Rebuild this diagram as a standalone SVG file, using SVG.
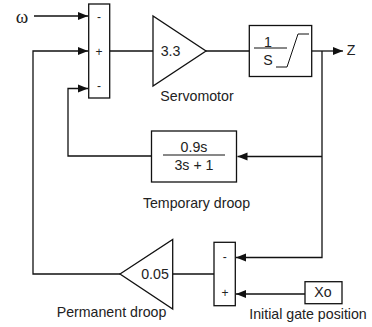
<svg xmlns="http://www.w3.org/2000/svg" width="372" height="327" viewBox="0 0 372 327">
<style>
text{font-family:"Liberation Sans",Arial,sans-serif;font-size:14.2px;fill:#222;text-anchor:middle}
.g{font-size:12px}
.s{fill:#fff;stroke:#111;stroke-width:1.3}
.l{fill:none;stroke:#111;stroke-width:1.3}
.t{stroke:#111;stroke-width:1;fill:none}
</style>
<defs><marker id="a" markerUnits="userSpaceOnUse" markerWidth="12" markerHeight="10" refX="10" refY="4.500" orient="auto"><path d="M0 0.500L10 4.500L0 8.500z" fill="#111"/></marker></defs>
<g id="connectors">
<path class="l" d="M34 16H88" marker-end="url(#a)"/>
<path class="l" d="M120 274H33V51H88" marker-end="url(#a)"/>
<path class="l" d="M151 156H68V88.500H88" marker-end="url(#a)"/>
<path class="l" d="M110 51H153"/>
<path class="l" d="M206 51H249"/>
<path class="l" d="M312 51H343" marker-end="url(#a)"/>
<path class="l" d="M322 51V257.500H236" marker-end="url(#a)"/>
<path class="l" d="M322 156.500H237.500" marker-end="url(#a)"/>
<path class="l" d="M305 294H236" marker-end="url(#a)"/>
<path class="l" d="M173 274H214"/>
</g>
<g id="omega"><text x="22" y="23" style="font-family:'Liberation Serif',serif;font-size:19px">ω</text></g>
<g id="sum1"><rect class="s" x="88.700" y="4" width="21" height="94"/><text class="g" x="99" y="21">-</text><text class="g" x="99" y="56">+</text><text class="g" x="99" y="90">-</text></g>
<g id="servomotor"><path class="s" d="M153 16V86L206 51z"/><text x="170.500" y="55.500">3.3</text><text x="197" y="101">Servomotor</text></g>
<g id="integrator"><rect class="s" x="249.300" y="25.500" width="62.400" height="51"/><path class="t" d="M254 48H287M276 67H287L298 34H309"/><text x="268" y="47">1</text><text x="268" y="65">S</text></g>
<g id="z"><text x="351" y="55">Z</text></g>
<g id="temporary"><rect class="s" x="151.500" y="131" width="85" height="51"/><path class="t" d="M163 155H225"/><text x="194" y="152">0.9s</text><text x="194" y="170">3s + 1</text><text x="196.500" y="208">Temporary droop</text></g>
<g id="permanent"><path class="s" d="M120 274L172.700 239.500V309z"/><text x="155" y="279">0.05</text><text x="111.500" y="316.500">Permanent droop</text></g>
<g id="sum2"><rect class="s" x="214" y="242.300" width="21.300" height="63.400"/><text class="g" x="224.700" y="261">-</text><text class="g" x="225" y="297">+</text></g>
<g id="xo"><rect class="s" x="305" y="281.700" width="37" height="22"/><text x="323" y="297">Xo</text><text x="308" y="319.300">Initial gate position</text></g>
</svg>
